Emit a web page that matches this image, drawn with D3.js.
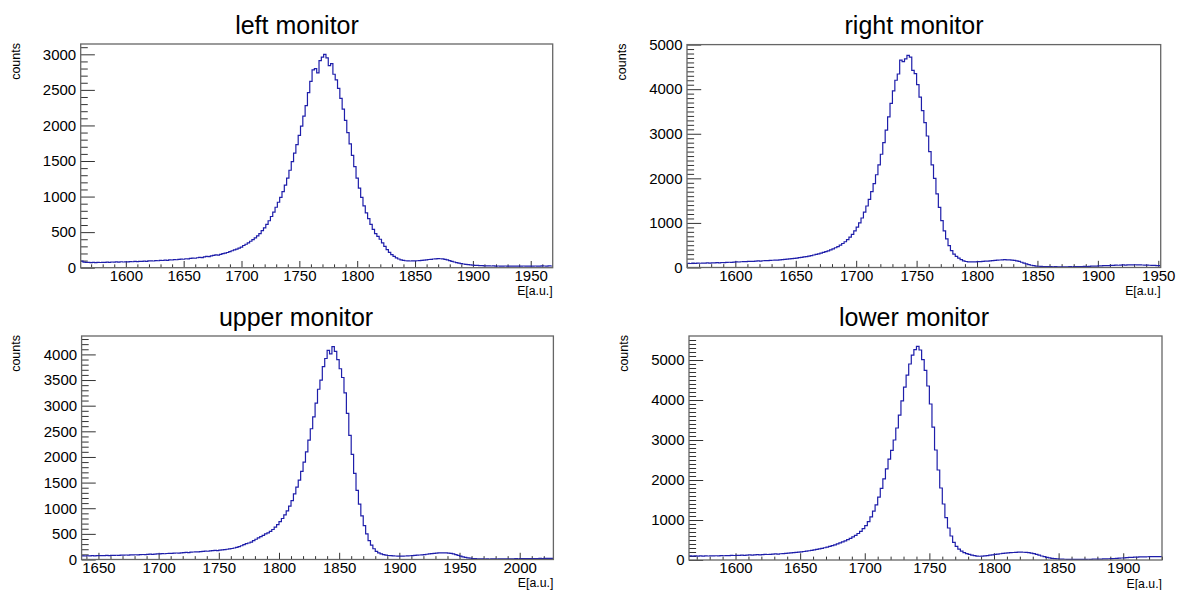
<!DOCTYPE html>
<html><head><meta charset="utf-8">
<script src="https://cdn.jsdelivr.net/npm/d3@7"></script>
<style>html,body{margin:0;padding:0;background:#fff;} svg{display:block;font-family:"Liberation Sans",Arial,Helvetica,sans-serif;}</style>
</head><body><svg id="c" width="1177" height="590"></svg>
<script>
const binWidth = 2;
const xAxisTitle = "E[a.u.]";
const yAxisTitle = "counts";

// left monitor: bins of width 2 starting at 1561
const leftTitle = "left monitor";
const leftStart = 1561;
const leftCounts = [
92,78,74,76,72,74,71,75,73,76,74,78,75,80,77,82,79,84,80,83,
81,86,84,88,85,90,88,93,90,95,97,94,100,98,103,101,106,104,110,108,
114,112,118,121,119,126,124,131,135,133,140,146,143,152,158,155,166,172,180,176,
188,197,205,214,226,238,250,262,276,290,312,330,348,372,395,418,448,480,520,560,
610,660,720,780,850,920,990,1070,1160,1260,1370,1490,1610,1730,1860,1990,2130,2280,2460,2620,
2780,2800,2740,2910,2960,3000,2950,2840,2870,2720,2640,2520,2380,2230,2070,1900,1740,1580,1420,1260,
1120,990,870,770,690,610,540,480,440,400,350,300,255,215,185,160,138,122,110,102,
98,96,94,96,95,98,100,103,107,110,115,118,122,125,128,126,124,118,110,100,
90,80,72,64,58,52,48,44,40,37,34,32,30,28,27,26,25,24,25,23,
24,22,23,24,22,23,21,22,23,21,22,24,22,23,21,22,24,23,22,25,
24,23,26,24];
const leftXTicks = [1600,1650,1700,1750,1800,1850,1900,1950];
const leftYTicks = [0,500,1000,1500,2000,2500,3000];

// right monitor: bins of width 2 starting at 1560
const rightTitle = "right monitor";
const rightStart = 1560;
const rightCounts = [
95,90,96,93,98,95,100,97,102,100,105,103,108,106,112,110,115,118,116,122,
125,123,129,132,130,136,139,137,143,147,145,151,155,153,159,163,167,165,172,176,
181,186,192,198,205,212,220,228,237,246,257,268,280,293,307,322,338,355,374,395,
418,443,470,502,538,578,625,680,745,820,905,1000,1110,1240,1380,1530,1700,1880,2080,2300,
2540,2800,3080,3380,3680,3960,4200,4340,4650,4620,4680,4760,4720,4420,4350,4100,3820,3520,3250,2950,
2600,2300,2000,1650,1350,1050,820,640,490,380,300,250,210,175,150,135,128,125,126,128,
130,133,137,141,145,150,155,160,165,168,172,175,173,170,166,160,150,136,118,98,
80,64,50,40,33,28,24,21,20,19,18,17,18,16,17,15,16,17,18,16,
18,20,19,22,24,23,27,30,29,33,36,35,40,43,42,46,49,52,50,55,
57,54,58,61,59,62,58,60,56,53,55,51,48,46,44,42];
const rightXTicks = [1600,1650,1700,1750,1800,1850,1900,1950];
const rightYTicks = [0,1000,2000,3000,4000,5000];

// upper monitor: bins of width 2 starting at 1636
const upperTitle = "upper monitor";
const upperStart = 1636;
const upperCounts = [
72,68,73,70,74,71,76,74,77,75,79,77,81,79,83,81,85,84,88,86,
90,89,93,91,95,98,96,101,103,101,106,109,111,114,112,117,120,118,124,127,
125,131,134,138,136,142,146,150,148,155,159,163,161,168,172,177,175,182,188,194,
200,207,215,224,238,252,268,290,308,322,340,368,395,420,445,470,498,520,548,585,
630,680,740,800,870,950,1040,1150,1280,1410,1550,1720,1900,2100,2330,2550,2780,3050,3320,3500,
3760,3920,4080,4010,4150,4060,3900,3720,3550,3250,2850,2420,2050,1680,1350,1080,850,660,500,370,
280,210,160,130,108,95,85,78,74,70,68,66,65,66,68,70,73,76,80,84,
88,92,97,102,108,114,120,124,128,130,131,129,126,120,110,96,80,64,50,40,
31,25,20,16,14,12,11,10,12,10,11,12,10,11,13,12,14,13,15,14,
16,15,17,16,18,17,19,18,20,19,21,20,22,21,23,22];
const upperXTicks = [1650,1700,1750,1800,1850,1900,1950,2000];
const upperYTicks = [0,500,1000,1500,2000,2500,3000,3500,4000];

// lower monitor: bins of width 2 starting at 1564
const lowerTitle = "lower monitor";
const lowerStart = 1564;
const lowerCounts = [
104,97,101,98,102,99,103,100,105,102,106,104,108,106,111,109,114,112,117,116,
120,118,123,126,124,129,132,130,136,139,137,143,147,151,149,156,160,165,170,176,
182,189,196,204,212,221,231,241,252,264,277,291,306,322,340,359,380,402,426,452,
480,510,542,577,617,662,717,782,860,960,1080,1220,1380,1570,1790,2030,2280,2520,2740,3000,
3300,3620,3980,4320,4620,4900,5120,5260,5340,5250,5010,4740,4350,3900,3320,2750,2250,1800,1400,1060,
800,600,440,340,270,220,185,160,140,122,108,98,94,96,102,110,120,130,140,148,
156,164,172,178,184,188,192,195,196,194,190,183,172,158,140,120,100,82,66,52,
42,34,28,24,21,19,18,17,16,17,15,16,18,17,19,18,20,22,21,24,
26,28,31,34,37,41,45,50,55,60,64,68,71,74,76,78,80,81,83,82,
84,83,85];
const lowerXTicks = [1600,1650,1700,1750,1800,1850,1900];
const lowerYTicks = [0,1000,2000,3000,4000,5000];

const panels = [
  {title:leftTitle, start:leftStart, counts:leftCounts, xTicks:leftXTicks, yTicks:leftYTicks,
   xDomain:[1561,1969], yMax:3145, frame:{l:80.7,r:552.7,t:44,b:267.7}, titleX:297, titleY:33.5, countsX:20},
  {title:rightTitle, start:rightStart, counts:rightCounts, xTicks:rightXTicks, yTicks:rightYTicks,
   xDomain:[1560,1952], yMax:5000, frame:{l:687,r:1160.7,t:44.6,b:267.5}, titleX:914, titleY:33.5, countsX:626},
  {title:upperTitle, start:upperStart, counts:upperCounts, xTicks:upperXTicks, yTicks:upperYTicks,
   xDomain:[1636,2028], yMax:4359, frame:{l:81.6,r:553.4,t:336,b:559.5}, titleX:296, titleY:326, countsX:20},
  {title:lowerTitle, start:lowerStart, counts:lowerCounts, xTicks:lowerXTicks, yTicks:lowerYTicks,
   xDomain:[1564,1930], yMax:5600, frame:{l:689,r:1162,t:336,b:560}, titleX:914, titleY:326, countsX:628}
];

const svg = d3.select("#c");
svg.append("rect").attr("width",1177).attr("height",590).attr("fill","#fff");

panels.forEach(p => {
  const f = p.frame;
  const x = d3.scaleLinear().domain(p.xDomain).range([f.l, f.r]);
  const y = d3.scaleLinear().domain([0, p.yMax]).range([f.b, f.t]);
  const g = svg.append("g");
  const fw = f.r - f.l, fh = f.b - f.t;
  const xMaj = 0.03*fh, yMaj = 0.03*fw;

  const xMinorVals = d3.range(Math.ceil(p.xDomain[0]/10)*10, p.xDomain[1]+1e-6, 10).filter(v => !p.xTicks.includes(v));
  const yMinorVals = d3.range(0, p.yMax, 100).filter(v => !p.yTicks.includes(v));

  const style = s => { s.select(".domain").remove(); s.attr("font-family", null).attr("font-size", 15).attr("color", "#000");
    s.selectAll(".tick line").attr("stroke", "#333").attr("stroke-width", 1); };

  g.append("g").attr("transform", `translate(0,${f.b})`)
    .call(d3.axisBottom(x).tickValues(xMinorVals).tickSize(-xMaj/2).tickFormat("")).call(style);
  g.append("g").attr("transform", `translate(0,${f.b})`)
    .call(d3.axisBottom(x).tickValues(p.xTicks).tickSize(-xMaj).tickPadding(2.5).tickFormat(d3.format("d"))).call(style);
  g.append("g").attr("transform", `translate(${f.l},0)`)
    .call(d3.axisLeft(y).tickValues(yMinorVals).tickSize(-yMaj/2).tickFormat("")).call(style);
  g.append("g").attr("transform", `translate(${f.l},0)`)
    .call(d3.axisLeft(y).tickValues(p.yTicks).tickSize(-yMaj).tickPadding(4.5).tickFormat(d3.format("d"))).call(style);

  const pts = p.counts.map((c, i) => [p.start + i*binWidth, c]);
  pts.push([p.start + p.counts.length*binWidth, p.counts[p.counts.length-1]]);
  g.append("path")
    .attr("d", d3.line().x(d => x(d[0])).y(d => y(d[1])).curve(d3.curveStepAfter)(pts))
    .attr("fill", "none").attr("stroke", "#1e1eaa").attr("stroke-width", 1.2);

  g.append("rect").attr("x", f.l).attr("y", f.t).attr("width", fw).attr("height", fh)
    .attr("fill", "none").attr("stroke", "#666").attr("stroke-width", 1.3);

  g.append("text").attr("x", p.titleX).attr("y", p.titleY).attr("text-anchor", "middle")
    .attr("font-size", 25).attr("fill", "#000").text(p.title);
  g.append("text").attr("x", f.r).attr("y", f.b + 27.5).attr("text-anchor", "end")
    .attr("font-size", 12.3).attr("fill", "#000").text(xAxisTitle);
  g.append("text").attr("transform", `translate(${p.countsX},${f.t - 1}) rotate(-90)`).attr("text-anchor", "end")
    .attr("font-size", 12.5).attr("fill", "#000").text(yAxisTitle);
});
</script></body></html>
